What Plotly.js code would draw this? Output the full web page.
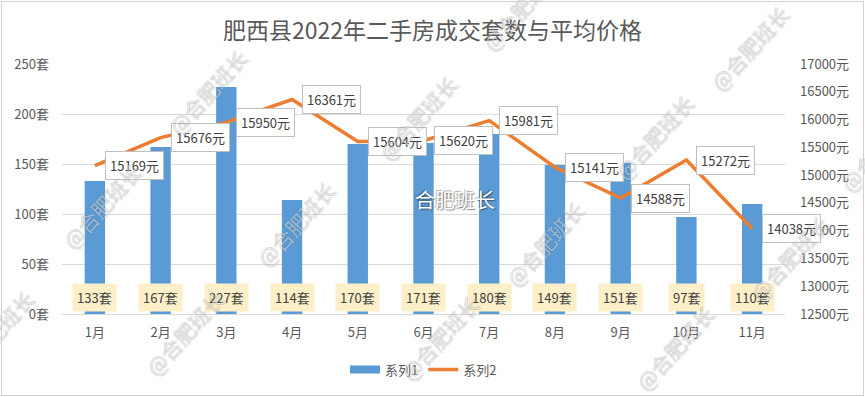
<!DOCTYPE html>
<html>
<head>
<meta charset="utf-8">
<script src="https://cdn.plot.ly/plotly-3.0.1.min.js"></script>
<style>
  html, body { margin: 0; padding: 0; background: #fff; }
  #wrap { position: relative; width: 865px; height: 397px; }
  #chart { width: 865px; height: 397px; }
  #frame { position: absolute; left: 1px; top: 1px; right: 1px; bottom: 1px; border: 1px solid #d0d0d0; pointer-events: none; }
</style>
</head>
<body>
<div id="wrap"><div id="chart"></div><div id="frame"></div></div>
<script>
// ---- data ----
const months = ['1月', '2月', '3月', '4月', '5月', '6月', '7月', '8月', '9月', '10月', '11月'];
const sales = [133, 167, 227, 114, 170, 171, 180, 149, 151, 97, 110];
const prices = [15169, 15676, 15950, 16361, 15604, 15620, 15981, 15141, 14588, 15272, 14038];
const salesSuffix = '套';
const priceSuffix = '元';
const titleText = '肥西县2022年二手房成交套数与平均价格';
const seriesNames = ['系列1', '系列2'];
const watermarkText = '@合肥班长';
const centerMark = '合肥班长';

// ---- layout geometry ----
const W = 865, H = 397;
const M = { l: 62, r: 80, t: 64, b: 81 };
const PW = W - M.l - M.r, PH = H - M.t - M.b;
function px(xp) { return (xp - M.l) / PW; }
function py(yp) { return (H - M.b - yp) / PH; }

const font = '"Noto Sans CJK SC", "Noto Sans", sans-serif';
const grey = '#595959';
const dark = '#404040';
const blue = '#5b9bd5';
const orange = '#ed7d31';

const traces = [
  {
    type: 'bar', x: months, y: sales, name: seriesNames[0],
    marker: { color: blue }, showlegend: false, hoverinfo: 'skip'
  },
  {
    type: 'scatter', mode: 'lines', x: months, y: prices, yaxis: 'y2',
    name: seriesNames[1], line: { color: orange, width: 3.5 }, showlegend: false
  },
  // legend proxies
  {
    type: 'scatter', mode: 'lines', x: [null], y: [null], name: seriesNames[0],
    line: { color: blue, width: 8 }, legendrank: 1
  },
  {
    type: 'scatter', mode: 'lines', x: [null], y: [null], name: seriesNames[1],
    line: { color: orange, width: 3.5 }, legendrank: 2
  }
];

const annotations = [];
// bar value labels (near the base)
months.forEach((m, i) => {
  annotations.push({
    x: m, xref: 'x', y: py(299), yref: 'paper',
    text: sales[i] + salesSuffix, showarrow: false,
    font: { family: font, size: 13, color: dark },
    bgcolor: '#fdf0c9', borderpad: 4, xanchor: 'center', yanchor: 'middle'
  });
});
// price labels
months.forEach((m, i) => {
  annotations.push({
    x: m, xref: 'x', y: prices[i], yref: 'y2',
    text: prices[i] + priceSuffix, showarrow: false,
    font: { family: font, size: 13, color: dark },
    bgcolor: '#ffffff', bordercolor: '#bfbfbf', borderwidth: 1, borderpad: 4,
    xanchor: 'left', yanchor: 'middle', xshift: 10
  });
});
// watermarks
const wm = [[208, 92], [418, 118], [655, 138], [102, 207], [296, 225], [545, 245], [790, 260],
            [185, 335], [440, 340], [675, 350], [750, 48], [522, 8], [880, 150], [-5, 335]];
const sh = 'rgba(0,0,0,0.2)';
wm.forEach(p => {
  annotations.push({
    x: px(p[0]), xref: 'paper', y: py(p[1]), yref: 'paper',
    text: watermarkText, showarrow: false, textangle: -48,
    font: { family: font, size: 21, color: 'rgba(255,255,255,0.5)',
            shadow: `1px 0 0 ${sh}, -1px 0 0 ${sh}, 0 1px 0 ${sh}, 0 -1px 0 ${sh}` },
    xanchor: 'center', yanchor: 'middle'
  });
});
annotations.push({
  x: px(455), xref: 'paper', y: py(201), yref: 'paper',
  text: centerMark, showarrow: false,
  font: { family: font, size: 20, color: '#ffffff',
          shadow: '1px 1px 1px rgba(0,0,0,0.45), -1px -1px 1px rgba(0,0,0,0.3)' },
  xanchor: 'center', yanchor: 'middle'
});

const layout = {
  width: W, height: H,
  margin: M,
  paper_bgcolor: '#ffffff', plot_bgcolor: '#ffffff',
  font: { family: font, size: 13, color: grey },
  title: {
    text: titleText, x: 0.5, xref: 'container', xanchor: 'center',
    y: 1 - 31 / H, yref: 'container', yanchor: 'middle',
    font: { family: font, size: 23, color: grey }
  },
  bargap: 0.69,
  xaxis: {
    type: 'category', range: [-0.5, months.length - 0.5],
    tickfont: { family: font, size: 13, color: grey },
    showgrid: false, showline: true, linecolor: '#d9d9d9', linewidth: 1,
    ticks: '', ticklabelstandoff: 6, fixedrange: true, automargin: false
  },
  yaxis: {
    range: [0, 250], dtick: 50, ticksuffix: salesSuffix,
    tickfont: { family: font, size: 13, color: grey },
    showgrid: true, gridcolor: '#d9d9d9', gridwidth: 1, zeroline: false,
    ticks: '', ticklabelstandoff: 12, fixedrange: true, automargin: false
  },
  yaxis2: {
    overlaying: 'y', side: 'right', range: [12500, 17000], dtick: 500,
    ticksuffix: priceSuffix, tickformat: 'd',
    tickfont: { family: font, size: 13, color: grey },
    showgrid: false, zeroline: false, ticks: '', ticklabelstandoff: 14, fixedrange: true, automargin: false
  },
  showlegend: true,
  legend: {
    orientation: 'h', x: 0.5, xanchor: 'center', y: py(372), yanchor: 'middle',
    font: { family: font, size: 13, color: grey }, itemwidth: 30, traceorder: 'normal'
  },
  annotations: annotations
};

Plotly.newPlot('chart', traces, layout, { displayModeBar: false, staticPlot: true });
</script>
</body>
</html>
